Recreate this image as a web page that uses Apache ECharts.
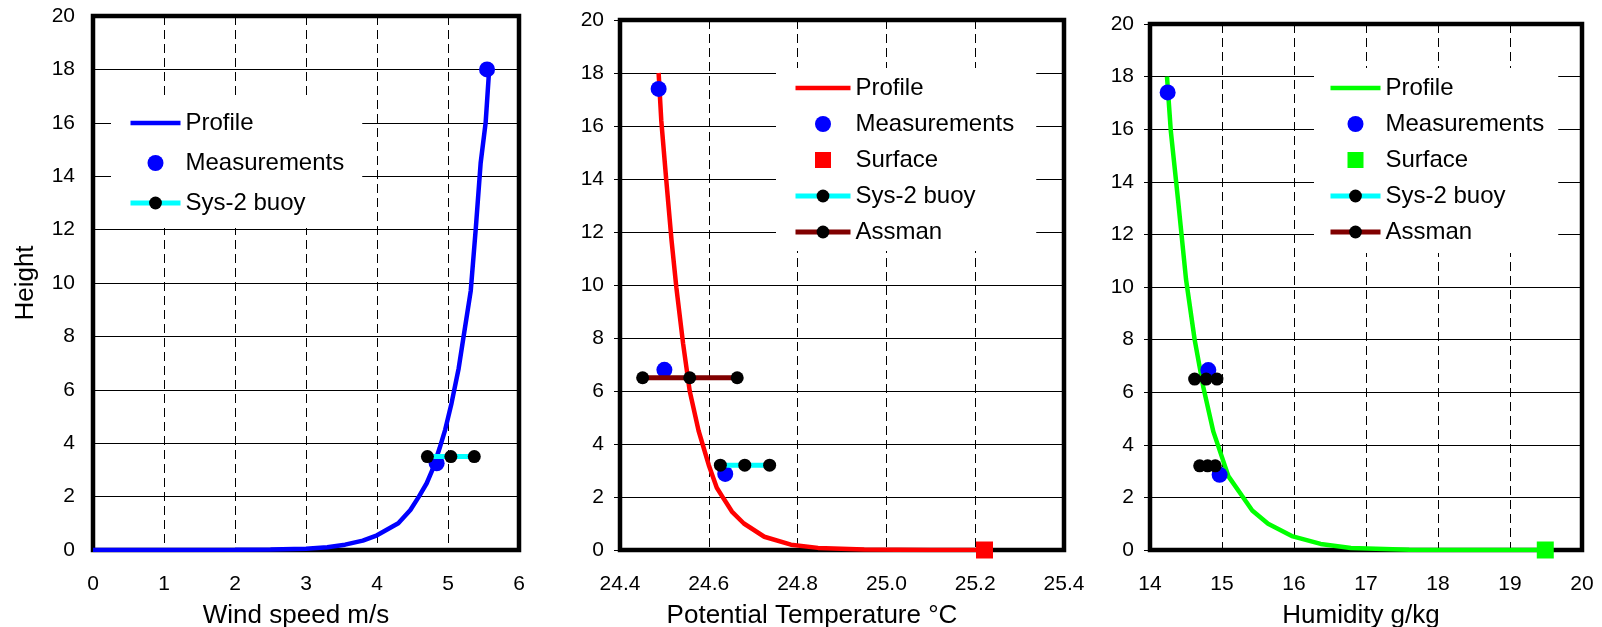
<!DOCTYPE html>
<html>
<head>
<meta charset="utf-8">
<script src="https://cdn.jsdelivr.net/npm/echarts@6/dist/echarts.min.js"></script>
<style>html,body{margin:0;padding:0;background:#fff}#c{width:1602px;height:627px}</style>
</head>
<body>
<div id="c"></div>
<script>
// ---------- data (x value, height) ----------
const windProfile = [[0.0,0.0],[1.0,0.002],[2.0,0.01],[2.5,0.02],[3.0,0.05],[3.3,0.1],[3.55,0.2],[3.8,0.35],[4.0,0.55],[4.3,1.0],[4.47,1.5],[4.59,2.0],[4.7,2.5],[4.78,3.0],[4.88,3.8],[4.96,4.5],[5.05,5.5],[5.15,6.8],[5.22,8.0],[5.32,9.7],[5.39,12.0],[5.46,14.5],[5.53,16.0],[5.58,18.0]];
const windMeas = [[5.55,18.0],[4.84,3.25]];
const windSys2 = [[4.71,3.5],[5.04,3.5],[5.37,3.5]];

const tempProfile = [[24.487,18.0],[24.493,16.2],[24.504,14.0],[24.516,11.7],[24.527,9.9],[24.542,7.8],[24.557,6.0],[24.577,4.5],[24.600,3.2],[24.618,2.35],[24.633,1.95],[24.652,1.45],[24.679,1.0],[24.725,0.5],[24.785,0.2],[24.846,0.08],[24.95,0.02],[25.1,0.0],[25.22,0.0]];
const tempMeas = [[24.487,17.4],[24.50,6.8],[24.637,2.87]];
const tempSurface = [[25.221,0]];
const tempSys2 = [[24.626,3.2],[24.681,3.2],[24.737,3.2]];
const tempAssman = [[24.451,6.5],[24.557,6.5],[24.664,6.5]];

const humProfile = [[14.236,18.0],[14.29,15.9],[14.39,13.3],[14.5,10.3],[14.62,8.0],[14.74,6.2],[14.88,4.5],[15.09,2.8],[15.28,2.05],[15.42,1.5],[15.64,1.0],[15.97,0.53],[16.37,0.23],[16.79,0.08],[17.6,0.01],[18.5,0.0],[19.5,0.0]];
const humMeas = [[14.245,17.4],[14.81,6.84],[14.967,2.86]];
const humSurface = [[19.49,0]];
const humSys2 = [[14.69,3.2],[14.8,3.2],[14.906,3.2]];
const humAssman = [[14.62,6.5],[14.78,6.5],[14.93,6.5]];

const xTitles = ['Wind speed m/s','Potential Temperature °C','Humidity g/kg'];
const yTitle = 'Height';
const legendNames = ['Profile','Measurements','Surface','Sys-2 buoy','Assman'];

// ---------- styling / layout ----------
const FONT = 'Liberation Sans, Arial, sans-serif';
const grids = [
  {left:93, top:16, width:426, height:534},
  {left:620, top:20, width:444, height:530},
  {left:1150, top:24, width:432, height:526}
].map(g => Object.assign(g, {show:true, borderColor:'#000', borderWidth:4.5,
  backgroundColor:'rgba(0,0,0,0)', containLabel:false, outerBoundsMode:'none'}));

const xCfg = [
  {min:0, max:6, interval:1, fmt: v => String(v), pad:[0,20,0,0]},
  {min:24.4, max:25.4, interval:0.2, fmt: v => v.toFixed(1), pad:[0,60,0,0]},
  {min:14, max:20, interval:1, fmt: v => String(v), pad:[0,10,0,0]}
];

const xAxis = xCfg.map((c,i) => ({
  type:'value', gridIndex:i, min:c.min, max:c.max, interval:c.interval,
  axisLine:{show:false}, axisTick:{show:false},
  axisLabel:{fontSize:21, color:'#000', fontFamily:FONT, margin:24, formatter:c.fmt},
  splitLine:{show:true, lineStyle:{color:'#000', width:1, type:[9,5]}},
  name:xTitles[i], nameLocation:'middle', nameGap:53,
  nameTextStyle:{fontSize:26, color:'#000', fontFamily:FONT, padding:c.pad}
}));

const yAxis = [0,1,2].map(i => ({
  type:'value', gridIndex:i, min:0, max:20, interval:2,
  axisLine:{show:false},
  axisTick:{show:i>0, length:6, lineStyle:{color:'#000', width:1}},
  axisLabel:{fontSize:21, color:'#000', fontFamily:FONT, margin: i===0 ? 18 : 16},
  splitLine:{show:true, lineStyle:{color:'#000', width:1}},
  name: i===0 ? yTitle : '', nameLocation:'middle', nameGap:54,
  nameTextStyle:{fontSize:26, color:'#000', fontFamily:FONT}
}));

function profileSeries(p, data, color){
  return {name:'Profile#'+p, type:'line', xAxisIndex:p, yAxisIndex:p, data:data,
    symbol:'none', lineStyle:{color:color, width:4.5}, itemStyle:{color:color}, z:3};
}
function measSeries(p, data){
  return {name:'Measurements#'+p, type:'scatter', xAxisIndex:p, yAxisIndex:p, data:data,
    symbol:'circle', symbolSize:16, itemStyle:{color:'#0000ff', opacity:1}, z:4};
}
function surfSeries(p, data, color){
  return {name:'Surface#'+p, type:'scatter', xAxisIndex:p, yAxisIndex:p, data:data,
    symbol:'rect', symbolSize:17, itemStyle:{color:color, opacity:1}, z:4};
}
function barSeries(p, name, data, color){
  return {name:name+'#'+p, type:'line', xAxisIndex:p, yAxisIndex:p, data:data,
    symbol:'circle', symbolSize:13, showSymbol:true,
    lineStyle:{color:color, width:5}, itemStyle:{color:'#000'}, z:5};
}

const series = [
  profileSeries(0, windProfile, '#0000ff'),
  measSeries(0, windMeas),
  barSeries(0, 'Sys-2 buoy', windSys2, '#00ffff'),
  profileSeries(1, tempProfile, '#ff0000'),
  measSeries(1, tempMeas),
  surfSeries(1, tempSurface, '#ff0000'),
  barSeries(1, 'Sys-2 buoy', tempSys2, '#00ffff'),
  barSeries(1, 'Assman', tempAssman, '#800000'),
  profileSeries(2, humProfile, '#00ff00'),
  measSeries(2, humMeas),
  surfSeries(2, humSurface, '#00ff00'),
  barSeries(2, 'Sys-2 buoy', humSys2, '#00ffff'),
  barSeries(2, 'Assman', humAssman, '#800000')
];

function legend(p, names, left, top, iw, gap, pad){
  return {
    show:true, orient:'vertical', left:left, top:top, padding:pad, itemGap:gap,
    itemWidth:iw, itemHeight:16, backgroundColor:'#fff', selectedMode:false,
    textStyle:{fontSize:24, color:'#000', fontFamily:FONT},
    itemStyle:{borderWidth:0}, lineStyle:{width:5},
    formatter: n => n.split('#')[0],
    data: names.map(n => {
      if (n === 'Profile') return {name:n+'#'+p, icon:'path://M0,0H'+iw+'V4.5H0Z'};
      if (n === 'Surface') return {name:n+'#'+p, icon:'path://M0,0H16V16H0Z'};
      if (n === 'Measurements') return {name:n+'#'+p, icon:'circle'};
      return {name:n+'#'+p};
    })
  };
}

const option = {
  animation:false,
  backgroundColor:'#fff',
  grid:grids, xAxis:xAxis, yAxis:yAxis, series:series,
  legend:[
    legend(0, ['Profile','Measurements','Sys-2 buoy'], 111, 100, 50, 16, [11,18,13,17]),
    legend(1, legendNames, 776, 68, 55, 12, [8,22,7,17]),
    legend(2, legendNames, 1314, 68, 50, 12, [8,14,9,14])
  ]
};

const chart = echarts.init(document.getElementById('c'), null, {renderer:'canvas'});
chart.setOption(option);
</script>
</body>
</html>
